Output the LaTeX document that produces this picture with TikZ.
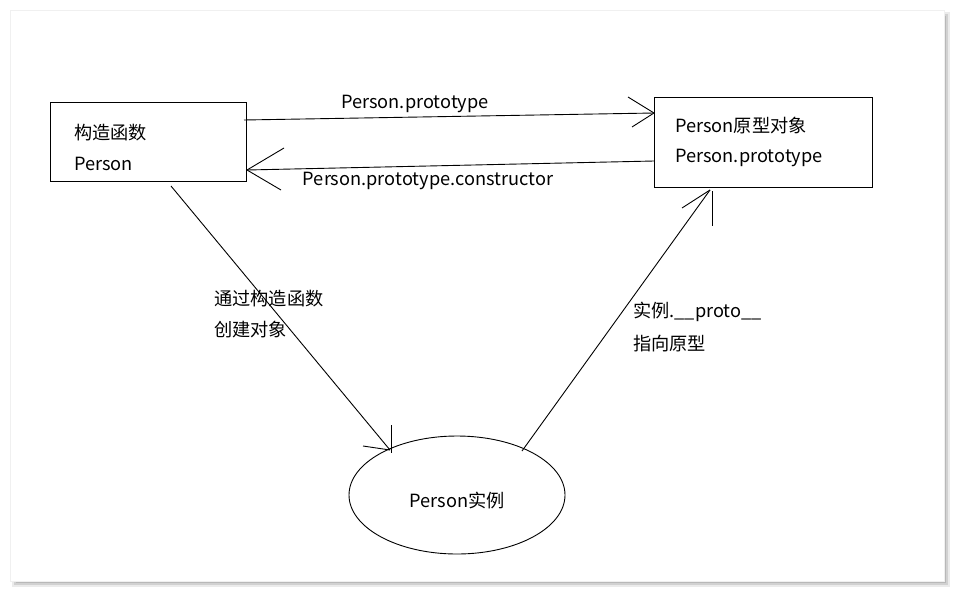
\documentclass[tikz,border=0pt]{standalone}
\usepackage{fontspec}
\usetikzlibrary{shapes.geometric}
\setmainfont{Noto Sans CJK SC}
\begin{document}
\begin{tikzpicture}[x=1pt,y=-1pt,
  box/.style={draw,line width=1.3pt,inner sep=0pt,anchor=north west},
  lbl/.style={font=\fontsize{18.2}{21}\selectfont,inner sep=0pt,anchor=west,yshift=-1.5pt},
  ln/.style={line width=0.9pt}]
\useasboundingbox (0,0) rectangle (955,592);
\fill[white] (0,0) rectangle (955,592);
% shadow
\fill[black!8] (12,12) rectangle (950,587);
\fill[black!18] (14,14) rectangle (948,585);
\fill[black!28] (16,16) rectangle (946,583);
\fill[white] (10,10) rectangle (944,581);
\draw[black!6] (10,10) rectangle (944,581);
% boxes
\node[box,minimum width=196pt,minimum height=79pt] (ctor) at (50,102) {};
\node[box,minimum width=218pt,minimum height=90pt] (proto) at (654,97) {};
\node[lbl] (t1) at (74,131) {构造函数};
\node[lbl] (t2) at (74,162) {Person};
\node[lbl] (t3) at (675,124) {Person原型对象};
\node[lbl] (t4) at (675,156) {Person.prototype};
% ellipse
\node[draw,ellipse,line width=0.9pt,minimum width=216pt,minimum height=118pt,inner sep=0pt] (inst) at (457,495) {};
\node[lbl,anchor=center] (t5) at (457,499) {Person实例};
% arrow 1
\coordinate (a1s) at (244,120);
\coordinate (a1e) at (654,113);
\draw[ln] (a1s) -- (a1e);
\coordinate (a1u) at (628,97);
\coordinate (a1d) at (632,127);
\draw[ln] (a1u) -- (a1e) -- (a1d);
\node[lbl,anchor=center] (l1) at (415,102) {Person.prototype};
% arrow 2
\coordinate (a2s) at (654,161);
\coordinate (a2e) at (247,170);
\draw[ln] (a2s) -- (a2e);
\coordinate (a2u) at (284,148);
\coordinate (a2d) at (281,190);
\draw[ln] (a2u) -- (a2e) -- (a2d);
\node[lbl,anchor=center] (l2) at (428,179) {Person.prototype.constructor};
% arrow 3
\coordinate (a3s) at (171,186);
\coordinate (a3e) at (390,450);
\draw[ln] (a3s) -- (a3e);
\coordinate (a3u) at (391,425);
\coordinate (a3b) at (391,453);
\coordinate (a3l) at (363,446);
\draw[ln] (a3u) -- (a3b);
\draw[ln] (a3l) -- (a3e);
\node[lbl] (l3) at (214,297) {通过构造函数};
\node[lbl] (l4) at (214,328) {创建对象};
% arrow 4
\coordinate (a4s) at (522,451);
\coordinate (a4e) at (710,190);
\draw[ln] (a4s) -- (a4e);
\coordinate (a4l) at (682,208);
\coordinate (a4t) at (712,191);
\coordinate (a4b) at (712,226);
\draw[ln] (a4l) -- (a4e);
\draw[ln] (a4t) -- (a4b);
\node[lbl] (l5) at (633,310) {实例.\_\_proto\_\_};
\node[lbl] (l6) at (633,342) {指向原型};
\end{tikzpicture}
\end{document}
